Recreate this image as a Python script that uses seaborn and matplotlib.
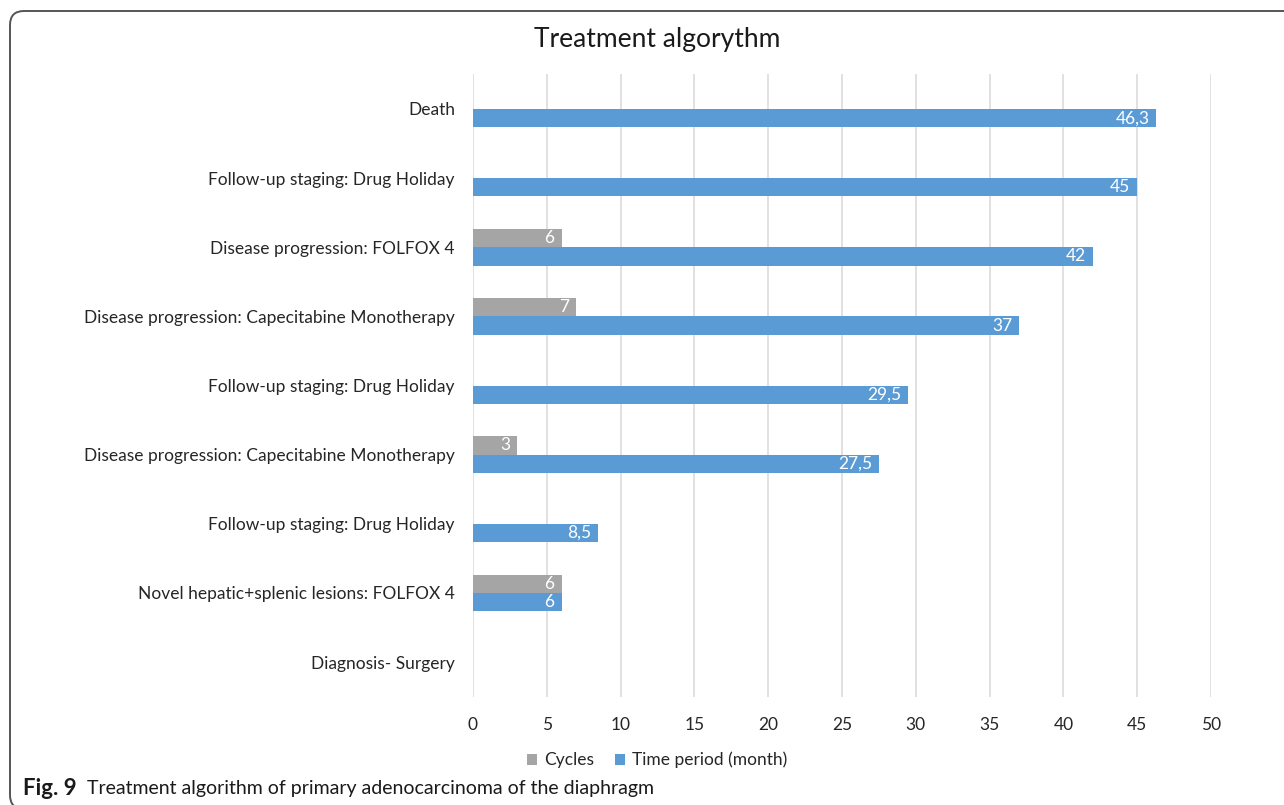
import numpy as np
import pandas as pd
import matplotlib
matplotlib.use("Agg")
import matplotlib.pyplot as plt
from matplotlib.patches import FancyBboxPatch, Patch
from matplotlib.transforms import IdentityTransform
import seaborn as sns

# Treatment steps, top to bottom
stages = [
    "Death",
    "Follow-up staging: Drug Holiday",
    "Disease progression: FOLFOX 4",
    "Disease progression: Capecitabine Monotherapy",
    "Follow-up staging: Drug Holiday",
    "Disease progression: Capecitabine Monotherapy",
    "Follow-up staging: Drug Holiday",
    "Novel hepatic+splenic lesions: FOLFOX 4",
    "Diagnosis- Surgery",
]
cycles = [np.nan, np.nan, 6, 7, np.nan, 3, np.nan, 6, np.nan]
time_months = [46.3, 45, 42, 37, 29.5, 27.5, 8.5, 6, np.nan]
series_names = ["Cycles", "Time period (month)"]
x_ticks = [0, 5, 10, 15, 20, 25, 30, 35, 40, 45, 50]

GREY = "#A5A5A5"
BLUE = "#5B9BD5"
FONT = ["Lato", "DejaVu Sans"]

sns.set_theme(style="white")
plt.rcParams["font.family"] = FONT

step_ids = [str(i) for i in range(len(stages))]
rows = []
for sid, c, t in zip(step_ids, cycles, time_months):
    if not np.isnan(c):
        rows.append({"step": sid, "series": series_names[0], "value": c})
    if not np.isnan(t):
        rows.append({"step": sid, "series": series_names[1], "value": t})
df = pd.DataFrame(rows)

fig = plt.figure(figsize=(12.84, 8.05), dpi=100)
ax = fig.add_axes([473 / 1284, 1 - 696.6 / 805, 738 / 1284, 622.2 / 805])

sns.barplot(
    data=df, x="value", y="step", hue="series",
    order=step_ids, hue_order=series_names,
    palette=[GREY, BLUE], saturation=1, orient="h", width=0.53,
    dodge=True, linewidth=0, errorbar=None, legend=False, ax=ax,
)

ax.set_xlim(0, 50)
ax.set_xticks(x_ticks)
ax.set_xticklabels([str(v) for v in x_ticks], fontsize=12.5, color="#262626")
ax.set_yticks(range(len(stages)))
ax.set_yticklabels(stages, fontsize=12.5, color="#262626")
ax.set_xlabel("")
ax.set_ylabel("")
ax.tick_params(axis="both", length=0)
ax.tick_params(axis="y", pad=13)
ax.tick_params(axis="x", pad=15)
ax.grid(axis="x", color="#D9D9D9", linewidth=1.1)
ax.set_axisbelow(True)
for s in ax.spines.values():
    s.set_visible(False)

# value labels inside the end of each bar
for container in ax.containers:
    for patch in container.patches:
        w = patch.get_width()
        if not np.isfinite(w) or w <= 0:
            continue
        txt = f"{w:g}".replace(".", ",")
        ax.annotate(
            txt, (patch.get_x() + w, patch.get_y() + patch.get_height() / 2),
            xytext=(-5, 0), textcoords="offset points",
            ha="right", va="center", color="white", fontsize=12.5,
        )

fig.text(657 / 1284, 1 - 40 / 805, "Treatment algorythm", ha="center",
         va="center", fontsize=19, color="#1a1a1a")

handles = [Patch(facecolor=GREY, edgecolor="none"),
           Patch(facecolor=BLUE, edgecolor="none")]
fig.legend(handles, series_names, loc="center", ncol=2,
           bbox_to_anchor=(657 / 1284, 1 - 760 / 805), frameon=False,
           fontsize=12.5, handlelength=0.6, handleheight=0.6,
           handletextpad=0.4, columnspacing=1.2)

fig.text(23 / 1284, 1 - 788 / 805, "Fig. 9", ha="left", va="center",
         fontsize=16, fontweight="bold", color="#1a1a1a")
fig.text(87 / 1284, 1 - 788 / 805,
         "Treatment algorithm of primary adenocarcinoma of the diaphragm",
         ha="left", va="center", fontsize=14, color="#1a1a1a")

# rounded frame around the figure
frame = FancyBboxPatch((10, -4), 1400, 798,
                       boxstyle="round,pad=0,rounding_size=14",
                       transform=IdentityTransform(), facecolor="none",
                       edgecolor="#555555", linewidth=1.4)
fig.patches.append(frame)

fig.savefig("out.png", dpi=100)
